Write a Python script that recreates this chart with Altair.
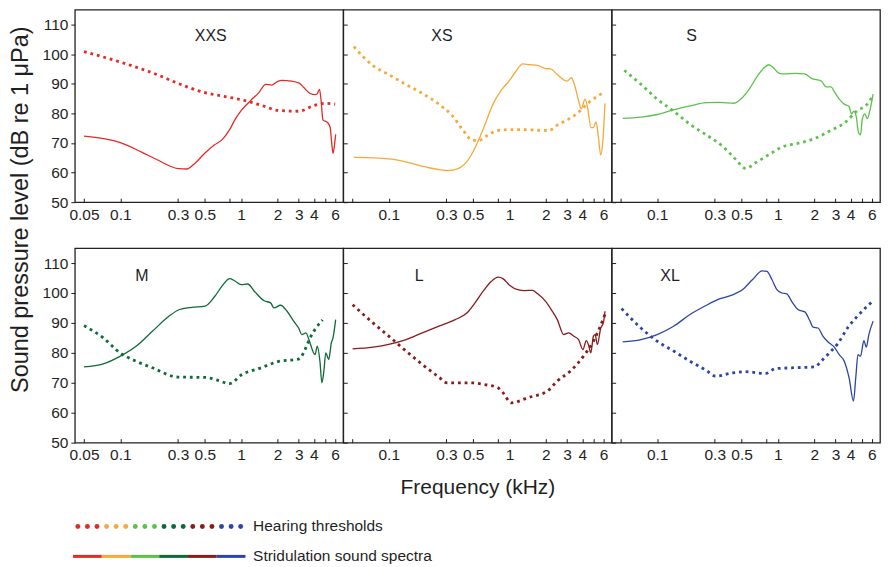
import altair as alt
import pandas as pd

sizes = ["XXS", "XS", "S", "M", "L", "XL"]
colors = ["#e32b24", "#f6a93b", "#5cc14b", "#0d6a36", "#8a1b1b", "#2a45a5"]

# ---- hearing thresholds (dotted) ----
xxs_thr_f = [0.05, 0.1, 0.2, 0.3, 0.5, 0.8, 1.0, 1.5, 2.0, 3.0, 4.0, 5.0, 6.0]
xxs_thr_db = [100.8, 97.3, 93.1, 90.1, 87.0, 85.4, 84.6, 82.6, 81.0, 80.7, 82.6, 83.4, 83.1]

xs_thr_f = [0.0514, 0.074, 0.1, 0.138, 0.19, 0.26, 0.334, 0.416, 0.486, 0.551, 0.665, 0.80,
            1.0, 1.33, 1.70, 2.12, 2.48, 3.0, 3.6, 4.37, 5.27, 6.17]
xs_thr_db = [102.5, 96.1, 93.1, 89.8, 86.7, 83.1, 79.3, 74.1, 71.0, 70.8, 72.7, 74.2,
             74.5, 74.5, 74.3, 74.2, 76.0, 77.8, 79.8, 83.1, 85.6, 87.3]

s_thr_f = [0.0535, 0.0734, 0.1, 0.137, 0.187, 0.256, 0.35, 0.449, 0.541, 0.653, 0.839, 1.078,
           1.474, 2.016, 2.755, 3.54, 4.54, 5.49, 6.14]
s_thr_db = [94.5, 89.8, 84.8, 80.7, 76.3, 72.7, 68.8, 64.4, 61.4, 63.3, 66.0, 68.6,
            69.9, 71.5, 74.3, 76.7, 80.9, 83.1, 86.2]

m_thr_f = [0.05, 0.0722, 0.1, 0.135, 0.184, 0.30, 0.502, 0.645, 0.803, 1.0, 1.456, 1.99,
           3.03, 3.38, 3.72, 4.22, 4.72]
m_thr_db = [89.1, 85.0, 79.9, 77.2, 75.0, 71.9, 71.8, 70.8, 69.7, 72.6, 75.0, 77.0,
            78.0, 81.1, 85.0, 88.6, 91.0]

l_thr_f = [0.0502, 0.0741, 0.1, 0.139, 0.19, 0.26, 0.304, 0.486, 0.625, 0.803, 0.882, 1.032,
           1.412, 2.06, 2.485, 3.19, 4.10, 4.95, 6.17]
l_thr_db = [96.1, 90.0, 85.6, 80.6, 76.1, 71.9, 70.0, 70.0, 69.4, 68.3, 66.7, 63.3,
            65.0, 67.2, 70.6, 73.9, 78.9, 83.9, 92.8]

xl_thr_f = [0.0508, 0.0734, 0.1, 0.137, 0.187, 0.256, 0.304, 0.421, 0.541, 0.788, 0.951, 1.30,
            2.016, 2.28, 2.755, 3.12, 3.77, 4.54, 6.14]
xl_thr_db = [94.8, 88.3, 83.9, 80.6, 77.2, 74.1, 72.2, 73.3, 73.7, 73.1, 74.7, 75.0,
             75.3, 77.2, 80.6, 83.0, 88.3, 92.2, 97.4]

# ---- stridulation sound spectra (solid) ----
xxs_spec_f = [0.05, 0.1, 0.15, 0.2, 0.305, 0.356, 0.404, 0.502, 0.599, 0.70, 0.798, 0.899,
              1.0, 1.199, 1.402, 1.599, 1.789, 1.99, 2.186, 2.587, 3.03, 3.3, 3.72, 4.09,
              4.25, 4.45, 4.6, 4.75, 5.19, 5.45, 5.62, 5.76, 5.91, 6.06]
xxs_spec_db = [72.3, 70.1, 66.9, 64.4, 61.3, 61.2, 62.7, 66.6, 69.3, 71.2, 74.3, 78.2,
               80.9, 84.3, 87.0, 89.8, 89.5, 90.7, 91.1, 90.9, 90.2, 88.7, 86.7, 86.3,
               86.5, 88.1, 84.0, 77.8, 76.9, 75.4, 70.0, 66.5, 69.0, 72.9]

xs_spec_f = [0.0514, 0.1, 0.138, 0.202, 0.26, 0.32, 0.38, 0.44, 0.50, 0.57, 0.645, 0.73,
             0.855, 1.0, 1.13, 1.285, 1.457, 1.70, 1.99, 2.19, 2.48, 3.0, 3.25, 3.44,
             3.73, 3.92, 4.22, 4.42, 4.73, 4.95, 5.20, 5.44, 5.68, 5.90, 6.17]
xs_spec_db = [65.1, 64.6, 63.6, 61.9, 61.0, 60.7, 61.4, 63.5, 67.1, 72.1, 77.6, 83.1,
              87.8, 91.1, 94.2, 96.7, 96.4, 96.2, 95.1, 95.0, 93.1, 90.9, 92.0, 89.8,
              84.3, 81.5, 84.8, 82.0, 75.2, 75.2, 77.1, 72.1, 66.0, 69.9, 83.4]

s_spec_f = [0.0519, 0.0734, 0.1, 0.137, 0.187, 0.256, 0.328, 0.435, 0.493, 0.577, 0.674, 0.764,
            0.839, 0.922, 1.013, 1.148, 1.384, 1.67, 1.89, 2.28, 2.51, 2.75, 2.93, 3.22,
            3.54, 3.88, 4.06, 4.26, 4.46, 4.63, 4.83, 4.99, 5.25, 5.49, 5.77, 6.14]
s_spec_db = [78.3, 78.7, 79.6, 81.2, 82.5, 83.6, 83.7, 83.4, 84.8, 88.1, 92.5, 95.3,
             96.4, 95.3, 93.6, 93.3, 93.5, 93.3, 91.8, 90.9, 88.9, 88.9, 87.3, 84.8,
             83.1, 82.3, 79.8, 80.7, 78.7, 73.8, 72.7, 78.0, 79.8, 78.2, 80.9, 86.5]

m_spec_f = [0.05, 0.0722, 0.1, 0.135, 0.184, 0.252, 0.305, 0.39, 0.502, 0.606, 0.709, 0.803,
            0.882, 1.0, 1.133, 1.285, 1.549, 1.756, 1.868, 2.119, 2.40, 2.72, 2.99, 3.18,
            3.45, 3.60, 4.09, 4.27, 4.49, 4.66, 4.84, 5.02, 5.31, 5.58, 5.76, 6.06]
m_spec_db = [75.3, 76.3, 78.9, 82.2, 87.2, 92.2, 94.4, 95.2, 95.6, 98.9, 102.8, 104.8,
             104.1, 102.8, 103.0, 100.6, 97.4, 96.7, 95.0, 95.9, 93.9, 90.6, 88.3, 86.1,
             86.7, 85.0, 79.4, 82.2, 77.2, 70.0, 73.9, 80.0, 77.8, 83.3, 85.0, 91.1]

l_spec_f = [0.0502, 0.0741, 0.1, 0.139, 0.19, 0.26, 0.355, 0.443, 0.518, 0.605, 0.708, 0.803,
            0.882, 1.0, 1.17, 1.33, 1.55, 1.70, 1.99, 2.26, 2.485, 2.81, 3.09, 3.39,
            3.73, 4.05, 4.32, 4.51, 4.71, 4.95, 5.11, 5.34, 5.69, 5.98, 6.17]
l_spec_db = [81.3, 81.9, 82.8, 84.4, 86.7, 88.9, 91.1, 93.3, 96.7, 100.6, 103.9, 105.3,
             104.8, 102.6, 101.1, 100.8, 100.9, 99.8, 97.2, 93.9, 91.1, 86.1, 86.7, 85.6,
             84.4, 81.1, 84.1, 82.6, 80.0, 85.6, 86.1, 82.8, 88.3, 90.0, 93.9]

xl_spec_f = [0.0519, 0.0734, 0.1, 0.137, 0.187, 0.256, 0.328, 0.421, 0.509, 0.614, 0.741, 0.813,
             0.894, 0.981, 1.078, 1.184, 1.30, 1.474, 1.67, 1.835, 1.952, 2.146, 2.356, 2.588,
             2.93, 3.22, 3.54, 3.88, 4.22, 4.41, 4.60, 4.83, 5.15, 5.39, 5.66, 6.14]
xl_spec_db = [83.7, 84.4, 86.1, 88.9, 92.8, 95.9, 98.0, 99.4, 101.1, 104.4, 107.4, 107.2,
              104.4, 101.1, 100.0, 99.7, 97.2, 94.4, 93.7, 90.8, 88.6, 88.3, 85.6, 83.7,
              81.9, 79.4, 77.2, 71.7, 63.9, 71.7, 79.4, 78.9, 84.1, 81.9, 86.1, 90.6]

# panel label anchor (in data units)
label_f = [0.56, 0.276, 0.193, 0.151, 0.179, 0.128]
label_db = [106.0, 106.0, 106.0, 105.7, 105.7, 105.7]

# x axis ticks
x_ticks = [0.05, 0.1, 0.3, 0.5, 0.8, 1, 2, 3, 4, 5, 6]
x_labels_first = [0.05, 0.1, 0.3, 0.5, 1, 2, 3, 4, 6]
x_labels_other = [0.1, 0.3, 0.5, 1, 2, 3, 4, 6]
y_ticks = [50, 60, 70, 80, 90, 100, 110]

# legend
legend_texts = ["Hearing thresholds", "Stridulation sound spectra"]
legend_dot_index = list(range(18))
legend_seg_start = [-0.5, 2.5, 5.5, 8.5, 11.5, 14.5]
legend_seg_end = [2.5, 5.5, 8.5, 11.5, 14.5, 17.5]

thr_f = [xxs_thr_f, xs_thr_f, s_thr_f, m_thr_f, l_thr_f, xl_thr_f]
thr_db = [xxs_thr_db, xs_thr_db, s_thr_db, m_thr_db, l_thr_db, xl_thr_db]
spec_f = [xxs_spec_f, xs_spec_f, s_spec_f, m_spec_f, l_spec_f, xl_spec_f]
spec_db = [xxs_spec_db, xs_spec_db, s_spec_db, m_spec_db, l_spec_db, xl_spec_db]

FONT = "Liberation Sans, Arial, Helvetica, sans-serif"
TXT = "#1f1f1f"
color_scale = alt.Scale(domain=sizes, range=colors)
PW = 269
ROW_H = [193, 195]


def make_panel(i):
    row, col = divmod(i, 3)
    name = sizes[i]
    shown = x_labels_first if col == 0 else x_labels_other
    expr = "indexof(" + str(shown) + ", datum.value) >= 0 ? datum.label : ''"
    xax = dict(values=x_ticks, format="~g", labelExpr=expr, tickSize=4, offset=-4,
               domain=False, grid=False, labelPadding=5, labelFontSize=15.5,
               labelOverlap=False, labelFlush=False, tickColor=TXT, labelColor=TXT)
    if i == 4:
        xax.update(title="Frequency (kHz)", titleFontSize=21, titleFontWeight="normal",
                   titleY=49, titleBaseline="middle", titleColor=TXT)
    else:
        xax.update(title=None)
    if col == 0:
        yax = dict(values=y_ticks, tickSize=4, domain=False, grid=False, labelFontSize=15.5,
                   labelPadding=3, labelOverlap=False, labelFlush=False, labelSeparation=0,
                   tickColor=TXT, labelColor=TXT)
        if i == 0:
            yax.update(title="Sound pressure level (dB re 1 \u03bcPa)", titleFontSize=23.5,
                       titleFontWeight="normal", titleX=-54, titleY=200, titleAngle=270,
                       titleAlign="center", titleBaseline="middle", titleColor=TXT)
        else:
            yax.update(title=None)
    else:
        yax = dict(values=y_ticks, tickSize=4, offset=-4, labels=False, domain=False,
                   grid=False, title=None, tickColor=TXT)

    xs = alt.Scale(type="log", domain=[0.042, 7.0], nice=False)
    ys = alt.Scale(domain=[50, 115], nice=False, zero=False)

    thr = pd.DataFrame({"f": thr_f[i], "db": thr_db[i], "size": name})
    spec = pd.DataFrame({"f": spec_f[i], "db": spec_db[i], "size": name})
    lab = pd.DataFrame({"f": [label_f[i]], "db": [label_db[i]], "size": [name]})

    def ex():
        return alt.X("f:Q", scale=xs, axis=alt.Axis(**xax))

    def ey():
        return alt.Y("db:Q", scale=ys, axis=alt.Axis(**yax))

    col_enc = alt.Color("size:N", scale=color_scale, legend=None)

    l_thr = alt.Chart(thr).mark_line(strokeWidth=2.8, strokeDash=[2.8, 3.9], strokeCap="butt",
                                     interpolate="monotone").encode(
        x=ex(), y=ey(), color=col_enc)
    l_spec = alt.Chart(spec).mark_line(strokeWidth=1.3, interpolate="monotone").encode(
        x=ex(), y=ey(), color=col_enc)
    t = alt.Chart(lab).mark_text(fontSize=16, font=FONT, color=TXT, align="center",
                                 baseline="middle").encode(
        x=ex(), y=ey(), text="size:N")
    return alt.layer(l_thr, l_spec, t).properties(width=PW, height=ROW_H[row])


panels = [make_panel(i) for i in range(6)]

# legend built from data
dots = pd.DataFrame({"idx": legend_dot_index,
                     "size": [sizes[k // 3] for k in legend_dot_index],
                     "r": [0] * 18})
segs = pd.DataFrame({"x0": legend_seg_start, "x1": legend_seg_end, "size": sizes,
                     "r": [1] * 6})
ltxt = pd.DataFrame({"x": [18.3, 18.3], "r": [0, 1], "t": legend_texts})
lx = alt.Scale(domain=[-0.3125, 18.4375], nice=False, zero=False)
ly = alt.Scale(domain=[-1.2667, 1.0667], nice=False, zero=False, reverse=True)
col_enc = alt.Color("size:N", scale=color_scale, legend=None)

leg_dots = alt.Chart(dots).mark_circle(size=24, opacity=1).encode(
    x=alt.X("idx:Q", scale=lx, axis=None), y=alt.Y("r:Q", scale=ly, axis=None), color=col_enc)
leg_segs = alt.Chart(segs).mark_rule(strokeWidth=3).encode(
    x=alt.X("x0:Q", scale=lx, axis=None), x2="x1:Q", y=alt.Y("r:Q", scale=ly, axis=None),
    color=col_enc)
leg_txt = alt.Chart(ltxt).mark_text(align="left", baseline="middle", fontSize=15.5, font=FONT,
                                    color=TXT).encode(
    x=alt.X("x:Q", scale=lx, axis=None), y=alt.Y("r:Q", scale=ly, axis=None), text="t:N")
legend = alt.layer(leg_dots, leg_segs, leg_txt).properties(
    width=180, height=70, view=alt.ViewBackground(strokeOpacity=0))

chart = alt.concat(*panels, legend, columns=3,
                   spacing=alt.RowColnumber(row=46, column=0),
                   bounds="flush", padding=0).configure(
    font=FONT
).configure_view(stroke="#222222", strokeWidth=1.3).configure_axis(
    labelFont=FONT, titleFont=FONT)

chart.save("out.html", embed_options={"renderer": "svg", "actions": False})
